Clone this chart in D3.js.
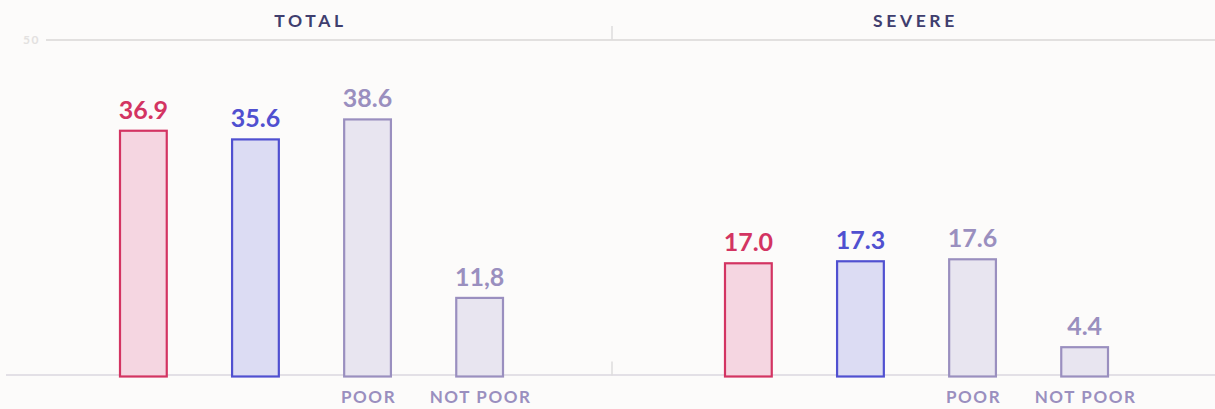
<!DOCTYPE html>
<html><head><meta charset="utf-8">
<script src="https://cdn.jsdelivr.net/npm/d3@7"></script>
<style>
html,body{margin:0;padding:0;background:#fcfbfa;}
svg{display:block;font-family:"Lato","Noto Sans",sans-serif;}
</style></head>
<body><svg id="c" width="1215" height="409"></svg>
<script>
const panels = ["TOTAL", "SEVERE"];
const categories = ["all", "group", "POOR", "NOT POOR"];
const categoryLabels = ["", "", "POOR", "NOT POOR"];
const totalValues = [36.9, 35.6, 38.6, 11.8];
const severeValues = [17.0, 17.3, 17.6, 4.4];
const valueLabels = [["36.9", "35.6", "38.6", "11,8"], ["17.0", "17.3", "17.6", "4.4"]];
const yTicks = [50];

const seriesValues = [totalValues, severeValues];
const strokes = ["#d33462", "#5050d0", "#9a8fbf", "#9a8fbf"];
const fills = ["#f5d6e1", "#dcdcf3", "#e8e5f0", "#e8e5f0"];

const svg = d3.select("#c");
const W = 1215;
const panelX = d3.scaleBand().domain(panels).range([7, 1217]);
const x = d3.scaleBand().domain(categories).range([112, 497]).paddingInner(0.565).paddingOuter(0);
const y = d3.scaleLinear().domain([0, 50]).range([376.5, 43.5]);

// top gridline (50)
const grid = svg.append("g").attr("transform", "translate(0,-3.5)");
grid.selectAll("line.g").data(yTicks).join("line")
  .attr("x1", 46).attr("x2", W).attr("y1", d => y(d)).attr("y2", d => y(d))
  .attr("stroke", "#e2e0df").attr("stroke-width", 2);
grid.selectAll("text.t").data(yTicks).join("text")
  .attr("x", 40).attr("y", d => y(d)).attr("dy", "0.35em")
  .attr("text-anchor", "end").attr("font-size", 12).attr("font-weight", 700)
  .attr("letter-spacing", 1.5).attr("fill", "#e3e1e0").text(d => d);

// baseline
svg.append("line").attr("x1", 6).attr("x2", W).attr("y1", y(0) - 1.5).attr("y2", y(0) - 1.5)
  .attr("stroke", "#e3e0e6").attr("stroke-width", 2);

// divider ticks
const divX = panelX("SEVERE");
svg.append("line").attr("x1", divX).attr("x2", divX).attr("y1", y(50) - 17.5).attr("y2", y(50) - 3.5)
  .attr("stroke", "#dedcdc").attr("stroke-width", 1.5);
svg.append("line").attr("x1", divX).attr("x2", divX).attr("y1", y(0) - 15).attr("y2", y(0) - 1)
  .attr("stroke", "#dedcdc").attr("stroke-width", 1.5);

panels.forEach((p, pi) => {
  const g = svg.append("g").attr("transform", `translate(${panelX(p)},0)`);
  g.append("text").attr("x", panelX.bandwidth() / 2 + 1).attr("y", 26.5)
    .attr("text-anchor", "middle").attr("font-size", 17.5).attr("font-weight", 700)
    .attr("letter-spacing", 3.6).attr("fill", "#3f3e6e").text(p);
  const data = categories.map((c, i) => ({ c, i, v: seriesValues[pi][i], lab: valueLabels[pi][i] }));
  g.selectAll("rect").data(data).join("rect")
    .attr("x", d => x(d.c) + 1).attr("width", x.bandwidth() - 2)
    .attr("y", d => y(d.v)).attr("height", d => y(0) - y(d.v))
    .attr("fill", d => fills[d.i]).attr("stroke", d => strokes[d.i]).attr("stroke-width", 2.2);
  g.selectAll("text.v").data(data).join("text").attr("class", "v")
    .attr("x", d => x(d.c) + x.bandwidth() / 2).attr("y", d => y(d.v) - 12)
    .attr("text-anchor", "middle").attr("font-size", 25).attr("font-weight", 700)
    .attr("fill", d => strokes[d.i]).text(d => d.lab);
  g.selectAll("text.c").data(data).join("text").attr("class", "c")
    .attr("x", d => x(d.c) + x.bandwidth() / 2 + 1).attr("y", 403)
    .attr("text-anchor", "middle").attr("font-size", 17).attr("font-weight", 700)
    .attr("letter-spacing", 1.6).attr("fill", "#9a8fbf").text(d => categoryLabels[d.i]);
});
</script></body></html>
